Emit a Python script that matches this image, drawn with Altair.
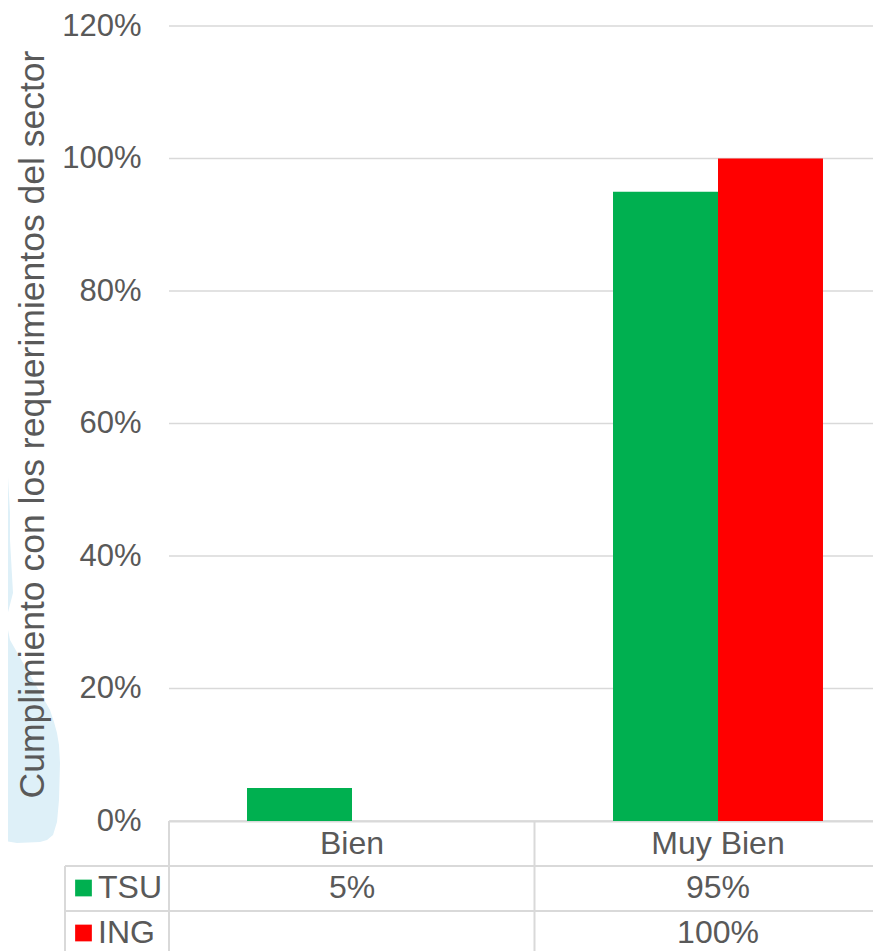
import altair as alt
import pandas as pd

categories = ["Bien", "Muy Bien"]
series = ["TSU", "ING"]
tsu_values = [0.05, 0.95]
ing_values = [None, 1.00]
tsu_labels = ["5%", "95%"]
ing_labels = ["", "100%"]
y_ticks = [0, 0.2, 0.4, 0.6, 0.8, 1.0, 1.2]
colors = ["#00B050", "#FF0000"]
TEXT = "#595959"
LINE = "#D9D9D9"
FS = 32
FONT = "Liberation Sans"
Y_TITLE = "Cumplimiento con los requerimientos del sector"
OX, OY = 169, 26  # page position of the plot origin
RIGHT, BOTTOM = 873, 951

# soft background decoration at the left edge, in page pixels
blob = [[0, 395], [7, 413], [5, 423], [10, 513], [10, 540], [13, 593], [6, 620], [10, 640],
        [50, 710], [54, 722], [57, 733], [59, 745], [60, 763], [59, 800], [57, 822], [53, 835],
        [47, 840], [40, 842], [17, 843], [0, 840]]
blob_path = "M" + "L".join(f"{x},{y}" for x, y in blob) + "Z"

bars = pd.DataFrame(
    [{"cat": c, "serie": "TSU", "v": v} for c, v in zip(categories, tsu_values)]
    + [{"cat": c, "serie": "ING", "v": v} for c, v in zip(categories, ing_values) if v is not None]
)

x_scale = alt.Scale(domain=categories, range=[0, 732], paddingInner=0, paddingOuter=0)
y_scale = alt.Scale(domain=[0, 1.2], nice=False)
y_axis = alt.Axis(values=y_ticks, format=".0%", labelFont=FONT, labelFontSize=31, labelColor=TEXT,
                  labelPadding=28, tickSize=0, domain=False, grid=False, zindex=1,
                  titleFont=FONT, titleFontSize=35.5, titleColor=TEXT, titleFontWeight="normal",
                  titleX=43.5 - OX, titleY=424 - OY, titleAngle=-90, titleAlign="center",
                  titleBaseline="alphabetic")

blob_layer = alt.Chart(pd.DataFrame({"k": [0]})).mark_point(
    shape=blob_path, size=4, filled=True, fill="#DEF0F8", opacity=1, strokeWidth=0
).encode(x=alt.value(-OX), y=alt.value(-OY))

grid_layer = alt.Chart(pd.DataFrame({"t": y_ticks})).mark_rule(color=LINE, strokeWidth=1.5).encode(
    x=alt.value(0), x2=alt.value(RIGHT - OX), y=alt.Y("t:Q", scale=y_scale, title=Y_TITLE, axis=y_axis)
)

bar_layer = alt.Chart(bars).mark_bar().encode(
    x=alt.X("cat:N", scale=x_scale, sort=categories, title=None,
            axis=alt.Axis(labelAngle=0, labelFont=FONT, labelFontSize=FS, labelColor=TEXT,
                          labelPadding=7, tickSize=0, domainColor=LINE, domainWidth=2, grid=False)),
    xOffset=alt.XOffset("serie:N", sort=series, scale=alt.Scale(domain=series, paddingInner=0, paddingOuter=0.743)),
    y=alt.Y("v:Q", scale=y_scale, title=Y_TITLE, axis=y_axis),
    color=alt.Color("serie:N", scale=alt.Scale(domain=series, range=colors), legend=None),
)

rows = [("TSU", 888, tsu_labels, colors[0]), ("ING", 933, ing_labels, colors[1])]
layers = [blob_layer, grid_layer, bar_layer]

for name, yy, labels, col in rows:
    df = pd.DataFrame({"cat": categories, "label": labels})
    layers.append(alt.Chart(df).mark_text(font=FONT, fontSize=FS, color=TEXT).encode(
        x=alt.X("cat:N", scale=x_scale, sort=categories), y=alt.value(yy - OY), text="label:N"))
    name_df = pd.DataFrame({"label": [name]})
    layers.append(alt.Chart(name_df).mark_text(font=FONT, fontSize=FS, color=TEXT, align="left").encode(
        x=alt.value(98 - OX), y=alt.value(yy - OY), text="label:N"))
    layers.append(alt.Chart(name_df).mark_square(size=280, color=col, opacity=1).encode(
        x=alt.value(83.5 - OX), y=alt.value(yy - OY)))

# table lines: horizontal
for yy in [866, 911]:
    layers.append(alt.Chart(pd.DataFrame({"k": [0]})).mark_rule(color=LINE, strokeWidth=2).encode(
        x=alt.value(65 - OX), x2=alt.value(RIGHT - OX), y=alt.value(yy - OY)))
# table lines: vertical
for xx, y0 in [(65, 866), (169, 821), (534.5, 821)]:
    layers.append(alt.Chart(pd.DataFrame({"k": [0]})).mark_rule(color=LINE, strokeWidth=2).encode(
        x=alt.value(xx - OX), y=alt.value(y0 - OY), y2=alt.value(BOTTOM - OY)))

chart = alt.layer(*layers).resolve_scale(color="independent").properties(
    width=RIGHT - OX, height=795,
    autosize=alt.AutoSizeParams(type="none"),
    padding={"left": OX - 8, "top": OY - 8, "right": 0, "bottom": BOTTOM - OY - 795},
    background="white",
).configure_view(stroke=None)

chart.save("out.html", embed_options={"renderer": "svg", "actions": False})
